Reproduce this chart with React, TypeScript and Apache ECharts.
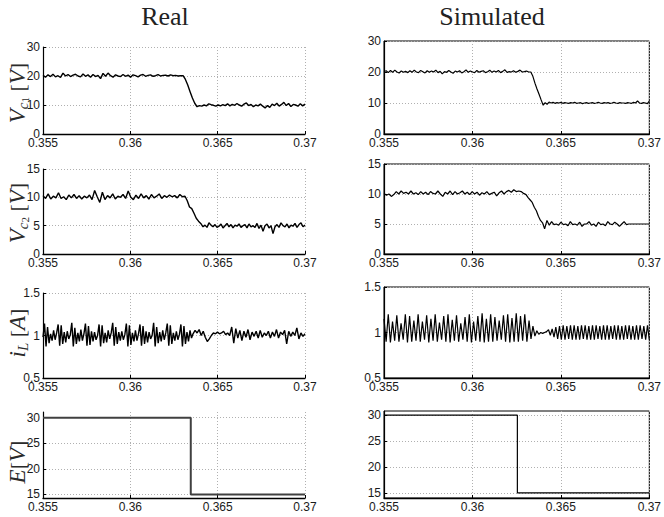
import React, { useEffect, useRef } from 'react';
import * as echarts from 'echarts';

// ---------- axis values ----------
const T_START = 0.355;
const T_END = 0.37;
const T_STEP = 0.005;

// ---------- Real Vc1 ----------
const vc1RealBefore = [20.2, 19.6, 20.4, 19.8, 20.6, 19.7, 20.1, 19.5, 21.0, 20.0, 20.5, 19.8, 20.3, 20.6, 20.0, 19.7, 20.7, 19.9, 20.4, 19.6, 20.5, 19.8, 20.2, 19.1, 20.9, 19.9, 21.0, 20.1, 19.6, 20.4, 20.0, 19.8, 20.5, 19.9, 20.3, 19.6, 20.4, 20.1, 19.7, 20.3, 20.5, 19.9, 20.2, 20.4, 19.9, 20.1, 20.5, 20.0, 20.2, 20.3, 20.0, 20.4, 20.1, 20.2, 20.0, 20.1];
const vc1RealDrop = [20.1, 18.8, 16.9, 14.6, 12.4, 10.6];
const vc1RealAfter = [9.4, 9.8, 9.6, 10.0, 9.7, 10.4, 10.1, 9.9, 9.6, 10.0, 9.7, 10.1, 9.8, 10.4, 9.7, 10.2, 9.9, 10.5, 10.0, 9.6, 10.3, 10.7, 9.8, 10.2, 9.4, 10.0, 9.7, 10.3, 9.6, 9.0, 9.8, 9.2, 10.3, 9.8, 10.6, 9.6, 10.2, 10.9, 9.8, 10.5, 9.5, 10.2, 10.0, 9.6, 10.4, 9.7, 10.3];
const vc1RealTimes = [0.355, 0.36302, 0.36382, 0.37];

// ---------- Simulated Vc1 ----------
const vc1SimBefore = [20.1, 20.4, 19.8, 20.5, 19.9, 20.6, 20.0, 19.7, 20.3, 19.9, 20.2, 19.8, 20.4, 19.9, 20.6, 20.0, 19.8, 20.5, 20.1, 19.7, 20.4, 19.9, 20.3, 20.0, 20.6, 19.8, 20.2, 19.4, 20.1, 19.9, 20.5, 20.0, 19.6, 20.3, 20.0, 20.4, 19.7, 20.1, 20.7, 19.9, 20.3, 20.0, 19.8, 20.5, 19.9, 20.2, 20.4, 19.8, 20.1, 20.6, 19.9, 20.3, 20.0, 20.5, 19.8, 20.2, 20.7, 19.9, 20.1, 20.0, 20.4, 19.9, 20.2, 20.6, 20.0, 20.1, 20.3, 20.0];
const vc1SimDrop = [20.0, 18.6, 16.4, 14.5, 12.8, 11.0];
const vc1SimAfter = [9.3, 10.1, 9.6, 10.3, 10.0, 10.2, 9.9, 10.1, 10.0, 10.2, 9.9, 10.1, 10.0, 9.9, 10.1, 10.0, 10.2, 9.9, 10.0, 10.1, 9.8, 10.0, 10.1, 9.9, 10.0, 10.1, 9.9, 10.0, 10.2, 10.0, 9.9, 10.1, 10.0, 10.1, 9.9, 10.0, 10.2, 10.0, 9.9, 10.1, 10.0, 10.0, 9.9, 10.1, 10.0, 9.9, 10.2, 10.0, 10.7, 10.0, 9.9, 10.1, 10.0, 9.8, 10.6];
const vc1SimTimes = [0.355, 0.3633, 0.364, 0.37];

// ---------- Real Vc2 ----------
const vc2RealBefore = [10.3, 9.8, 10.6, 9.7, 10.2, 9.9, 10.8, 9.8, 10.1, 9.6, 10.4, 9.9, 10.5, 9.8, 10.3, 9.7, 10.2, 9.9, 10.4, 9.6, 11.2, 10.1, 9.1, 10.9, 9.6, 10.3, 9.9, 10.6, 9.7, 10.2, 10.0, 10.5, 9.8, 11.1, 10.0, 9.6, 10.4, 9.8, 10.6, 9.9, 10.3, 9.7, 10.5, 9.9, 10.2, 10.6, 9.8, 10.3, 10.0, 10.4, 10.1, 10.3, 9.9, 10.5, 10.1];
const vc2RealDrop = [10.2, 9.4, 8.3, 8.0, 7.2, 6.3, 5.8, 5.4];
const vc2RealAfter = [4.8, 5.1, 4.7, 5.5, 5.1, 4.8, 5.2, 4.7, 4.9, 5.3, 4.6, 5.0, 5.4, 4.8, 5.2, 4.6, 5.1, 4.9, 5.3, 4.7, 5.0, 5.2, 4.6, 5.3, 4.8, 5.0, 4.7, 5.4, 4.5, 5.1, 4.0, 5.0, 5.3, 4.6, 5.0, 3.6, 4.8, 5.2, 4.7, 5.5, 5.0, 4.8, 5.3, 4.6, 5.1, 4.9, 5.4, 4.7, 5.2, 5.5, 4.8, 5.1];
const vc2RealTimes = [0.355, 0.36313, 0.36416, 0.37];

// ---------- Simulated Vc2 ----------
const vc2SimBefore = [10.1, 9.8, 10.0, 9.6, 9.9, 10.4, 10.0, 10.5, 10.1, 10.3, 10.0, 10.5, 10.0, 10.2, 9.9, 10.4, 10.0, 10.3, 9.9, 10.4, 10.1, 10.0, 10.5, 10.0, 9.6, 10.3, 10.0, 10.5, 9.9, 10.4, 10.0, 10.2, 10.5, 10.0, 10.3, 9.9, 10.4, 10.0, 10.3, 9.8, 10.2, 10.0, 10.4, 9.9, 10.1, 10.3, 9.7, 10.2, 10.5, 10.0, 10.4, 10.6, 10.3, 10.7, 10.4, 10.5, 10.4, 10.1];
const vc2SimDrop = [9.9, 9.4, 9.0, 8.6, 7.8, 7.2, 6.3, 5.6, 5.2];
const vc2SimAfter = [4.2, 5.6, 4.8, 5.4, 4.9, 5.0, 4.8, 5.3, 4.9, 5.0, 4.7, 5.4, 4.9, 5.0, 4.8, 5.3, 4.6, 5.0, 5.0, 5.4, 4.8, 5.0, 4.6, 5.3, 4.9, 5.0, 4.7, 5.4, 5.0, 4.9, 5.3, 5.0, 4.6, 5.0, 5.4, 4.9];
const vc2SimFlat = [5.0, 5.0];
const vc2SimTimes = [0.355, 0.36303, 0.36408, 0.36884, 0.37];

// ---------- Real iL ----------
const iLRealBefore = [
  0.98, 1.14, 0.87, 1.10, 0.91, 1.02, 0.94, 1.06, 0.95,
  1.03, 1.13, 0.88, 1.12, 0.90, 1.04, 0.92, 1.05, 0.96,
  1.01, 1.15, 0.87, 1.09, 0.90, 1.03, 0.93, 1.07, 0.94,
  1.02, 1.14, 0.88, 1.11, 0.89, 1.05, 0.93, 1.04, 0.95,
  1.00, 1.13, 0.87, 1.12, 0.91, 1.03, 0.92, 1.06, 0.96,
  1.03, 1.15, 0.88, 1.10, 0.90, 1.04, 0.94, 1.05, 0.95,
  1.01, 1.14, 0.87, 1.12, 0.89, 1.03, 0.93, 1.06, 0.94,
  1.02, 1.13, 0.88, 1.11, 0.90, 1.05, 0.92, 1.04, 0.96,
  1.00, 1.15, 0.87, 1.10, 0.91, 1.04, 0.93, 1.06, 0.95,
  1.03, 1.14, 0.88, 1.12, 0.90, 1.03, 0.94, 1.05, 0.95,
  1.01, 1.13, 0.87, 1.11, 0.90, 1.04, 0.93, 1.06, 0.97,
];
const iLRealAfter = [1.02, 1.06, 1.03, 1.07, 1.00, 1.05, 0.98, 0.93, 0.96, 1.00, 1.03, 1.02, 1.04, 1.02, 1.03, 1.05, 1.01, 1.03, 1.00, 1.10, 0.91, 1.08, 0.97, 1.06, 0.94, 1.05, 0.98, 1.07, 0.95, 1.04, 0.99, 1.05, 0.97, 1.06, 0.98, 1.03, 1.00, 1.05, 0.97, 1.04, 0.99, 1.07, 0.97, 1.04, 1.01, 1.06, 0.90, 1.05, 0.99, 1.04, 1.00, 1.09, 0.96, 1.03, 0.99, 1.02];
const iLRealTimes = [0.355, 0.36359, 0.37];

// ---------- Simulated iL ----------
const iLSimBefore = [1.15, 0.90, 1.20, 0.89, 1.12, 0.91, 1.19, 0.90, 1.10, 0.92, 1.20, 0.89, 1.18, 0.90, 1.13, 0.91, 1.20, 0.90, 1.12, 0.92, 1.19, 0.89, 1.15, 0.91, 1.20, 0.90, 1.11, 0.92, 1.18, 0.90, 1.20, 0.89, 1.14, 0.91, 1.19, 0.90, 1.10, 0.92, 1.17, 0.90, 1.20, 0.89, 1.12, 0.91, 1.18, 0.90, 1.21, 0.89, 1.15, 0.90, 1.20, 0.90, 1.17, 0.91, 1.13, 0.92, 1.19, 0.90, 1.20, 0.89, 1.16, 0.90, 1.21, 0.90, 1.18, 0.91, 1.20, 0.90];
const iLSimTransition = [1.13, 0.93, 1.07, 0.96, 1.02, 0.98, 1.00, 0.99, 1.00, 1.01];
const iLSimAfter = [1.03, 0.97, 1.04, 0.95, 1.06, 0.93, 1.07, 0.92, 1.08, 0.92, 1.07, 0.93, 1.08, 0.92, 1.08, 0.92, 1.07, 0.92, 1.08, 0.93, 1.08, 0.92, 1.07, 0.92, 1.08, 0.92, 1.08, 0.93, 1.07, 0.92, 1.08, 0.92, 1.08, 0.92, 1.07, 0.93, 1.08, 0.92, 1.08, 0.92, 1.07, 0.92, 1.08, 0.93, 1.08, 0.92, 1.07, 0.92, 1.08, 0.92, 1.08, 0.93, 1.07, 0.92, 1.08, 0.92];
const iLSimTimes = [0.355, 0.3632, 0.3643, 0.37];

// ---------- E (input voltage step) ----------
const eRealLevels = [30, 15];
const eRealSwitch = 0.36346;
const eSimLevels = [30, 15];
const eSimSwitch = 0.36254;

// ---------- tick labels ----------
const xTickLabels = ['0.355', '0.36', '0.365', '0.37'];
const eTicks = [15, 20, 25, 30];

// spreads the listed samples over [t0, t1)
function segment(t0: number, t1: number, vals: number[], inclusive = false) {
  const n = inclusive ? vals.length - 1 : vals.length;
  return vals.map((v, i) => [t0 + ((t1 - t0) * i) / Math.max(n, 1), v]);
}
function joinSegments(times: number[], parts: number[][]) {
  const out: number[][] = [];
  parts.forEach((p, i) => {
    out.push(...segment(times[i], times[i + 1], p, i === parts.length - 1));
  });
  return out;
}
function stepData(levels: number[], tSwitch: number) {
  return [
    [T_START, levels[0]],
    [tSwitch, levels[0]],
    [tSwitch, levels[1]],
    [T_END, levels[1]],
  ];
}

const FONT_TICK = 'Liberation Sans';
const FONT_SERIF = 'Liberation Serif';

export default function App() {
  const ref = useRef<HTMLDivElement>(null);

  useEffect(() => {
    document.body.style.margin = '0';
    if (!ref.current) return;
    const chart = echarts.init(ref.current, null, { renderer: 'svg' });

    const leftCol = { x: 43, w: 262 };
    const rightCol = { x: 384, w: 271 };
    const leftRows = [[47, 134], [169, 254], [293, 378], [412, 498]];
    const rightRows = [[41, 134], [164, 254], [287, 378], [411, 498]];

    const yRanges: any[] = [
      { min: 0, max: 30, interval: 10 },
      { min: 0, max: 15, interval: 5 },
      { min: 0.5, max: 1.5, interval: 0.5 },
    ];

    const seriesData = [
      joinSegments(vc1RealTimes, [vc1RealBefore, vc1RealDrop, vc1RealAfter]),
      joinSegments(vc2RealTimes, [vc2RealBefore, vc2RealDrop, vc2RealAfter]),
      joinSegments(iLRealTimes, [iLRealBefore, iLRealAfter]),
      stepData(eRealLevels, eRealSwitch),
      joinSegments(vc1SimTimes, [vc1SimBefore, vc1SimDrop, vc1SimAfter]),
      joinSegments(vc2SimTimes, [vc2SimBefore, vc2SimDrop, vc2SimAfter, vc2SimFlat]),
      joinSegments(iLSimTimes, [iLSimBefore, iLSimTransition, iLSimAfter]),
      stepData(eSimLevels, eSimSwitch),
    ];

    const grids: any[] = [];
    const xAxes: any[] = [];
    const yAxes: any[] = [];
    const series: any[] = [];

    const gridLine = { show: true, lineStyle: { color: '#b0b0b0', width: 1, type: [1, 2] } };
    const axisLabelBase = { color: '#1a1a1a', fontFamily: FONT_TICK, fontSize: 12 };

    for (let col = 0; col < 2; col++) {
      for (let row = 0; row < 4; row++) {
        const idx = col * 4 + row;
        const c = col === 0 ? leftCol : rightCol;
        const r = col === 0 ? leftRows[row] : rightRows[row];
        grids.push({
          left: c.x,
          top: r[0],
          width: c.w,
          height: r[1] - r[0],
          show: col === 1,
          borderColor: '#000',
          borderWidth: 1,
          backgroundColor: 'transparent',
          containLabel: false,
        });
        xAxes.push({
          type: 'value',
          gridIndex: idx,
          min: T_START,
          max: T_END,
          interval: T_STEP,
          axisLine: { show: true, onZero: false, lineStyle: { color: '#000', width: 1.4 } },
          axisTick: { show: true, inside: true, length: 3, lineStyle: { color: '#000' } },
          axisLabel: {
            ...axisLabelBase,
            margin: 3,
            formatter: (v: number) => {
              const s = String(+v.toFixed(4));
              const found = xTickLabels.find((l) => l === s);
              return found ?? s;
            },
          },
          splitLine: gridLine,
        });
        let yCfg: any;
        if (row < 3) {
          yCfg = { ...yRanges[row] };
        } else {
          yCfg = col === 0 ? { min: 14.3, max: 31.1 } : { min: 14, max: 30.8 };
        }
        yAxes.push({
          type: 'value',
          gridIndex: idx,
          ...yCfg,
          axisLine: { show: true, onZero: false, lineStyle: { color: '#000', width: 1.2 } },
          axisTick: row === 3
            ? { show: true, inside: true, length: 3, lineStyle: { color: '#000' }, customValues: eTicks }
            : { show: true, inside: true, length: 3, lineStyle: { color: '#000' } },
          axisLabel: row === 3
            ? { ...axisLabelBase, margin: 3, customValues: eTicks }
            : { ...axisLabelBase, margin: 3 },
          splitLine: gridLine,
        });
        series.push({
          type: 'line',
          xAxisIndex: idx,
          yAxisIndex: idx,
          data: seriesData[idx],
          showSymbol: false,
          symbol: 'none',
          silent: true,
          clip: true,
          lineStyle: {
            color: col === 0 && row === 3 ? '#404040' : '#000',
            width: col === 0 ? (row === 3 ? 2 : 1.4) : 1.2,
          },
        });
      }
    }

    const labelRich = {
      v: { fontFamily: FONT_SERIF, fontStyle: 'italic', fontSize: 23, fill: '#2a2a2a', lineHeight: 26 },
      b: { fontFamily: FONT_SERIF, fontSize: 22, fill: '#2a2a2a', lineHeight: 26 },
      s: { fontFamily: FONT_SERIF, fontStyle: 'italic', fontSize: 15, fill: '#2a2a2a', lineHeight: 14, verticalAlign: 'bottom' },
      ss: { fontFamily: FONT_SERIF, fontSize: 11, fill: '#2a2a2a', lineHeight: 8, verticalAlign: 'bottom' },
    };
    const yNames = [
      { text: '{v|V}{s|c}{ss|1}{b| [}{v|V}{b|]}', y: 93 },
      { text: '{v|V}{s|c}{ss|2}{b| [}{v|V}{b|]}', y: 213 },
      { text: '{v|i}{s|L}{b| [}{v|A}{b|]}', y: 333 },
      { text: '{v|E}{b|[}{v|V}{b|]}', y: 462 },
    ];

    const graphic: any[] = [
      {
        type: 'text', x: 165, y: 16,
        style: { text: 'Real', font: `26px "${FONT_SERIF}"`, fill: '#222', align: 'center', verticalAlign: 'middle', textAlign: 'center', textVerticalAlign: 'middle' },
      },
      {
        type: 'text', x: 492, y: 16,
        style: { text: 'Simulated', font: `26px "${FONT_SERIF}"`, fill: '#222', align: 'center', verticalAlign: 'middle', textAlign: 'center', textVerticalAlign: 'middle' },
      },
      ...yNames.map((n) => ({
        type: 'text', x: 17, y: n.y, rotation: Math.PI / 2,
        style: { text: n.text, rich: labelRich, align: 'center', verticalAlign: 'middle', textAlign: 'center', textVerticalAlign: 'middle' },
      })),
    ];

    chart.setOption({
      animation: false,
      backgroundColor: '#fff',
      grid: grids,
      xAxis: xAxes,
      yAxis: yAxes,
      series,
      graphic,
    });

    return () => chart.dispose();
  }, []);

  return <div ref={ref} style={{ width: 664, height: 517 }} />;
}
